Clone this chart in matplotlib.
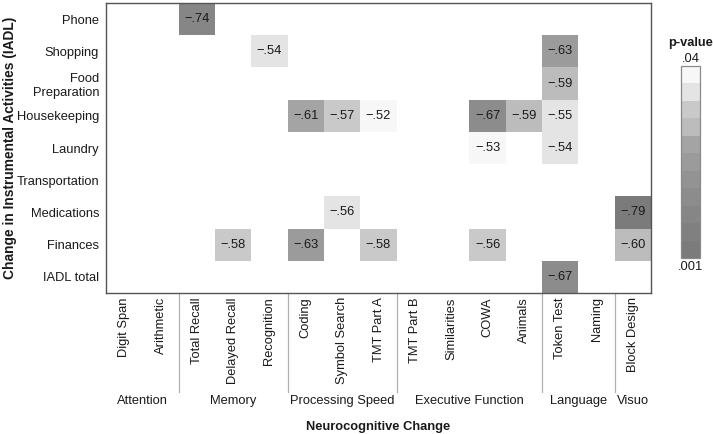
import numpy as np
import matplotlib
matplotlib.use("Agg")
import matplotlib.pyplot as plt
from matplotlib.colors import ListedColormap, BoundaryNorm
from matplotlib.transforms import blended_transform_factory

plt.rcParams['font.family'] = ['Liberation Sans', 'DejaVu Sans']

# ---- data ----
row_labels = ["Phone", "Shopping", "Food\nPreparation", "Housekeeping", "Laundry",
              "Transportation", "Medications", "Finances", "IADL total"]
col_labels = ["Digit Span", "Arithmetic", "Total Recall", "Delayed Recall", "Recognition",
              "Coding", "Symbol Search", "TMT Part A", "TMT Part B", "Similarities",
              "COWA", "Animals", "Token Test", "Naming", "Block Design"]
group_names = ["Attention", "Memory", "Processing Speed", "Executive Function", "Language", "Visuo"]
group_sizes = [2, 3, 3, 4, 2, 1]

cell_row = [0, 1, 1, 2, 3, 3, 3, 3, 3, 3, 4, 4, 6, 6, 7, 7, 7, 7, 7, 8]
cell_col = [2, 4, 12, 12, 5, 6, 7, 10, 11, 12, 10, 12, 6, 14, 3, 5, 7, 10, 14, 12]
cell_r = [-.74, -.54, -.63, -.59, -.61, -.57, -.52, -.67, -.59, -.55,
          -.53, -.54, -.56, -.79, -.58, -.63, -.58, -.56, -.60, -.67]
cell_p = [.010, .035, .020, .027, .024, .031, .038, .013, .027, .035,
          .038, .035, .035, .002, .031, .020, .031, .031, .027, .013]

p_min, p_max = 0.001, 0.04
band_colors = ["#7b7b7b", "#808080", "#868686", "#8c8c8c", "#939393", "#9b9b9b",
               "#a4a4a4", "#bcbcbc", "#c9c9c9", "#e4e4e4", "#f7f7f7"]

# ---- figure ----
fig = plt.figure(figsize=(7.13, 4.34), dpi=100)
ax = fig.add_axes([106/713, 1-293/434, 545/713, 290/434])

nr, nc = len(row_labels), len(col_labels)
grid = np.full((nr, nc), np.nan)
for r, c, p in zip(cell_row, cell_col, cell_p):
    grid[r, c] = p
cmap = ListedColormap(band_colors)
bounds = np.linspace(p_min, p_max, len(band_colors) + 1)
norm = BoundaryNorm(bounds, cmap.N)
mesh = ax.pcolormesh(np.arange(nc + 1), np.arange(nr + 1), np.ma.masked_invalid(grid),
                     cmap=cmap, norm=norm)
ax.set_xlim(0, nc)
ax.set_ylim(nr, 0)

for r, c, v in zip(cell_row, cell_col, cell_r):
    txt = "\u2212" + f"{abs(v):.2f}"[1:]
    ax.text(c + 0.5, r + 0.5, txt, ha='center', va='center', fontsize=9.3, color='#1a1a1a')

ax.set_xticks(np.arange(nc) + 0.5)
ax.set_xticklabels(col_labels, rotation=90, fontsize=9.3, color='#1a1a1a')
ax.set_yticks(np.arange(nr) + 0.5)
ax.set_yticklabels(row_labels, fontsize=9.3, color='#1a1a1a', ha='right', multialignment='right')
ax.tick_params(length=0, pad=3)
ax.tick_params(axis='y', pad=5)
for s in ax.spines.values():
    s.set_color('#555555')
    s.set_linewidth(1.0)

trans = blended_transform_factory(ax.transData, ax.transAxes)
edges = np.cumsum(group_sizes)
starts = edges - np.array(group_sizes)
for e in edges[:-1]:
    ax.plot([e, e], [0, -0.341], transform=trans, color='#b0b0b0', lw=0.9, clip_on=False)
for name, s0, e in zip(group_names, starts, edges):
    ax.text((s0 + e) / 2, -0.372, name, transform=trans, ha='center', va='center',
            fontsize=9.3, color='#1a1a1a')

ax.text(0.5, -0.462, "Neurocognitive Change", transform=ax.transAxes, ha='center',
        va='center', fontsize=9.3, fontweight='bold', color='#1a1a1a')
ax.text(-0.176, 0.5, "Change in Instrumental Activities (IADL)", transform=ax.transAxes,
        ha='center', va='center', rotation=90, fontsize=9.9, fontweight='bold', color='#1a1a1a')

# ---- colorbar ----
cax = fig.add_axes([681/713, 1-258/434, 19/713, 192/434])
cb = fig.colorbar(mesh, cax=cax, orientation='vertical')
cb.set_ticks([])
cb.minorticks_off()
cax.tick_params(which='both', length=0, labelright=False, labelleft=False)
cb.outline.set_edgecolor('#8a8a8a')
cb.outline.set_linewidth(0.9)
fig.text(690.5/713, 1-43/434, "p-value", ha='center', va='center', fontsize=9.3,
         fontweight='bold', color='#1a1a1a')
fig.text(690.5/713, 1-59/434, ".04", ha='center', va='center', fontsize=9.3, color='#1a1a1a')
fig.text(690.5/713, 1-267/434, ".001", ha='center', va='center', fontsize=9.3, color='#1a1a1a')

fig.savefig("out.png", dpi=100)
